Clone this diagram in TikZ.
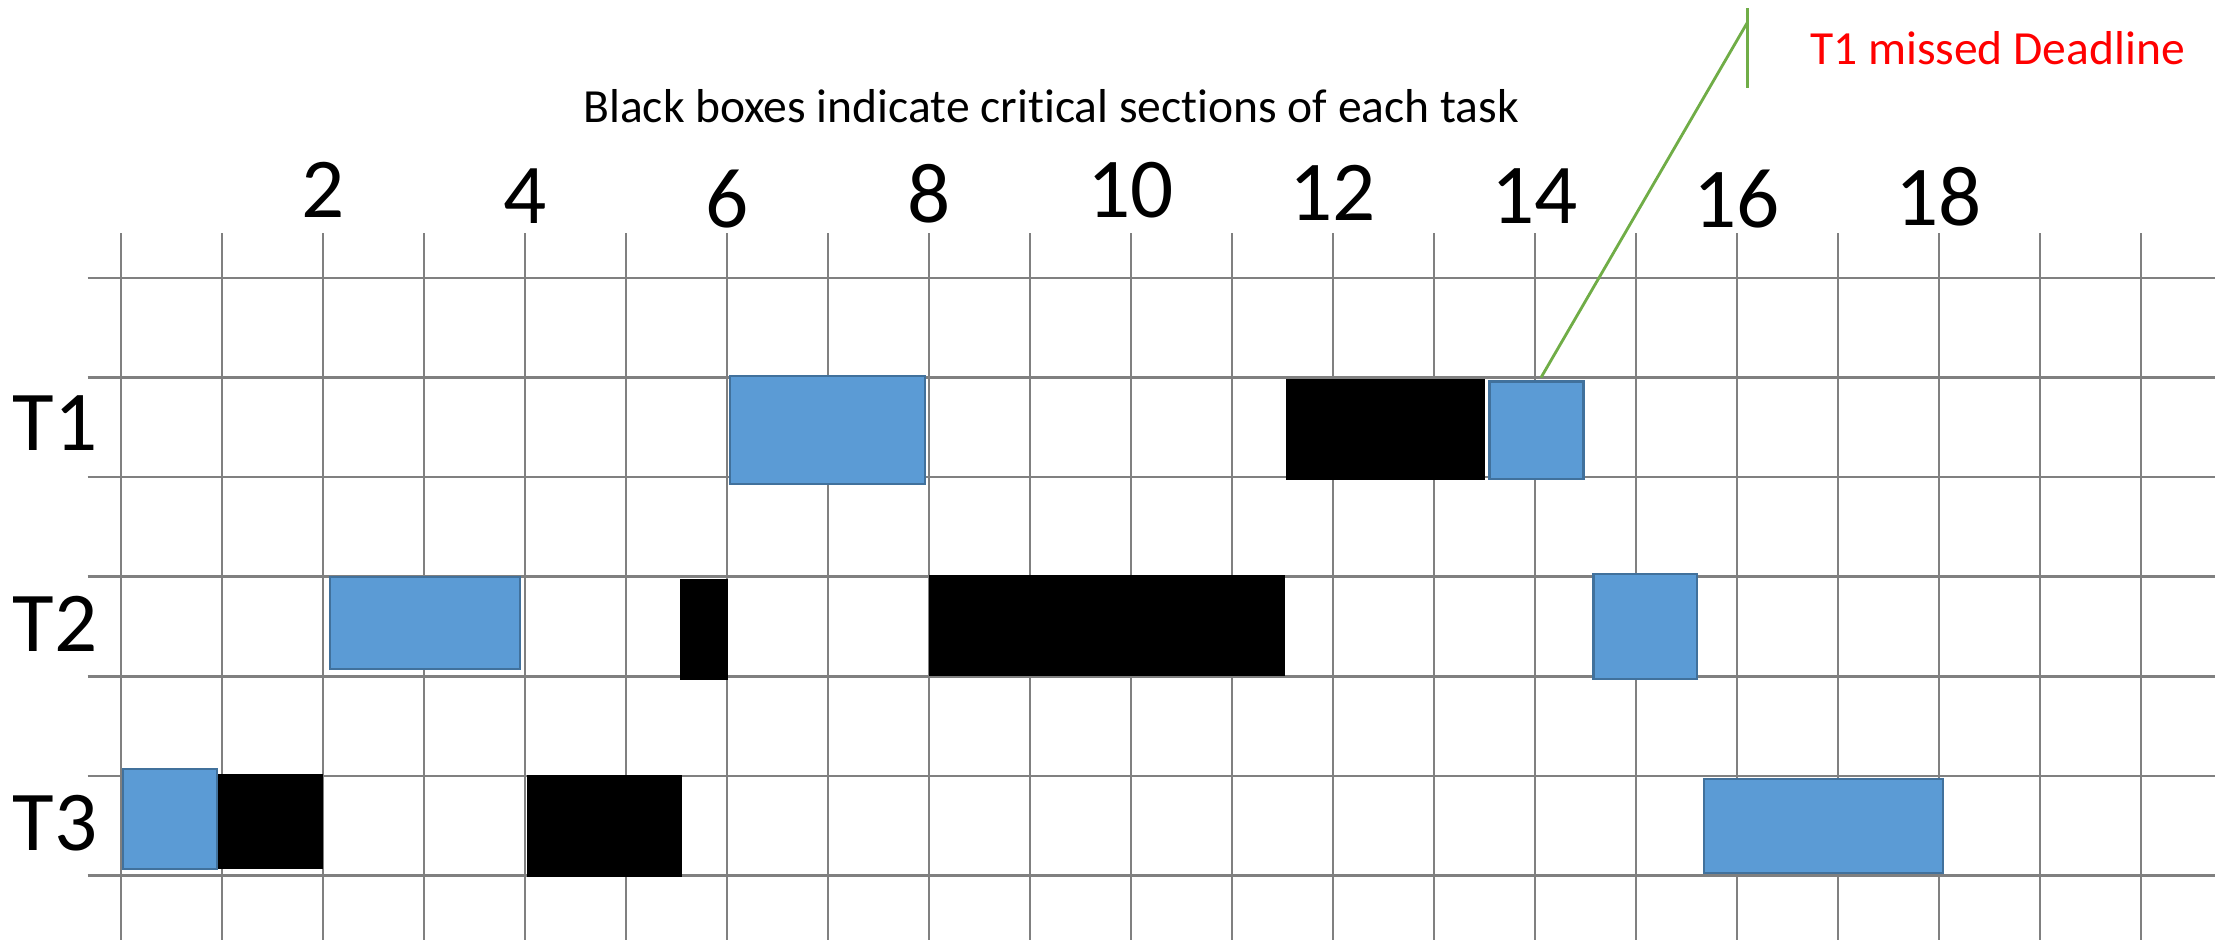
\documentclass[tikz,border=0pt]{standalone}
\usepackage{fontspec}
\setmainfont{Carlito}[Ligatures=NoCommon]
\definecolor{jobblue}{HTML}{5B9BD5}
\definecolor{jobedge}{HTML}{41719C}
\definecolor{callgreen}{HTML}{70AD47}
\newcommand{\runbox}[4]{\draw[jobedge,line width=.6pt,fill=jobblue] (#1,#2) rectangle (#3,#4);}
\newcommand{\lockbox}[4]{\fill (#1,#2) rectangle (#3,#4);}

\begin{document}
\begin{tikzpicture}[x=1cm,y=.986cm,font=\fontsize{24}{28}\selectfont]
\useasboundingbox (-1.198,2.791) rectangle (20.733,-6.647);
\foreach \x in {0,...,20}\draw[black!50,line width=.75pt] (\x,.45)--(\x,-6.647);
\foreach \y in {0,...,6}\draw[black!50,line width=.75pt] (-.33,-\y)--(20.733,-\y);
\foreach \t/\h in {2/.88,4/.82,6/.79,8/.85,10/.88,12/.85,14/.82,16/.79,18/.82}\node (n\t) at (\t,\h){\t};
\node (t1) at (-.65,-1.46){T1};\node (t2) at (-.65,-3.47){T2};\node (t3) at (-.65,-5.47){T3};
\runbox{6.03}{-.984}{7.96}{-2.068}\lockbox{11.53}{-1.014}{13.51}{-2.028}\runbox{13.55}{-1.04}{14.48}{-2.016}
\runbox{2.07}{-3.0}{3.95}{-3.93}\lockbox{5.53}{-3.02}{6.01}{-4.036}\lockbox{8.0}{-2.98}{11.52}{-3.996}\runbox{14.58}{-2.97}{15.6}{-4.026}
\runbox{.02}{-4.93}{.95}{-5.934}\lockbox{.96}{-4.98}{2.0}{-5.934}\lockbox{4.02}{-4.995}{5.55}{-6.014}\runbox{15.67}{-5.03}{18.04}{-5.974}
\node[anchor=base,font=\fontsize{13.4}{16}\selectfont] (title) at (9.21,1.556){Black boxes indicate critical sections of each task};
\node[anchor=base,red,font=\fontsize{13.4}{16}\selectfont] (miss) at (18.58,2.139){T1 missed Deadline};
\coordinate (late) at (14.06,-1.0);\coordinate (bend) at (16.1,2.56);
\coordinate (bartop) at (16.1,2.71);\coordinate (barbot) at (16.1,1.91);
\draw[callgreen,line width=.8pt] (late)--(bend);\draw[callgreen,line width=.8pt] (bartop)--(barbot);
\end{tikzpicture}
\end{document}
